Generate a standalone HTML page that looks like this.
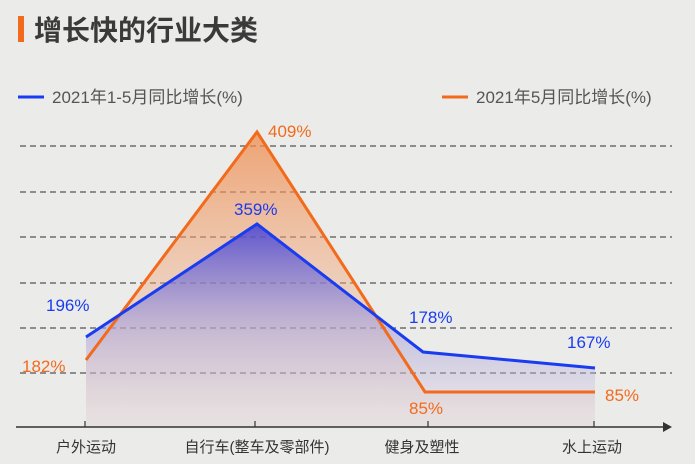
<!DOCTYPE html>
<html><head><meta charset="utf-8"><style>
body{margin:0;width:695px;height:464px;overflow:hidden;background:#ebebea;font-family:"Liberation Sans","Noto Sans CJK SC",sans-serif;}
</style></head><body>
<svg width="695" height="464" xmlns="http://www.w3.org/2000/svg" style="position:absolute;left:0;top:0">
<defs>
<linearGradient id="og" x1="0" y1="0" x2="0" y2="1"><stop offset="0" stop-color="#f08a4a" stop-opacity="0.75"/><stop offset="1" stop-color="#f0c8b0" stop-opacity="0.15"/></linearGradient>
<linearGradient id="bg" x1="0" y1="0" x2="0" y2="1"><stop offset="0" stop-color="#3a3ad8" stop-opacity="0.8"/><stop offset="0.5" stop-color="#a8a0d8" stop-opacity="0.6"/><stop offset="1" stop-color="#d8d0e0" stop-opacity="0.2"/></linearGradient>
</defs>
<rect x="18" y="16" width="6" height="26" fill="#f26b1d"/>
<text x="34" y="40" font-size="28" font-weight="bold" fill="#3a3a3a" font-family="Liberation Sans,Noto Sans CJK SC,sans-serif">增长快的行业大类</text>
<line x1="18" y1="97" x2="44" y2="97" stroke="#1a3cf0" stroke-width="3"/>
<text x="52" y="103" font-size="17" fill="#555">2021年1-5月同比增长(%)</text>
<line x1="442" y1="97" x2="468" y2="97" stroke="#f26b1d" stroke-width="3"/>
<text x="476" y="103" font-size="17" fill="#555">2021年5月同比增长(%)</text>
<g stroke="#555" stroke-width="1.2" stroke-dasharray="6,4">
<line x1="20" y1="146" x2="672" y2="146"/><line x1="20" y1="192" x2="672" y2="192"/><line x1="20" y1="237" x2="672" y2="237"/><line x1="20" y1="283" x2="672" y2="283"/><line x1="20" y1="328" x2="672" y2="328"/><line x1="20" y1="373" x2="672" y2="373"/>
</g>
<polygon points="86,360 257,132 425,392 595,392 595,427 86,427" fill="url(#og)"/>
<polygon points="86,337 257,224 423,352 595,368 595,427 86,427" fill="url(#bg)"/>
<polyline points="86,360 257,132 425,392 595,392" fill="none" stroke="#f26b1d" stroke-width="3"/>
<polyline points="86,337 257,224 423,352 595,368" fill="none" stroke="#1a3cf0" stroke-width="3"/>
<line x1="16" y1="427" x2="664" y2="427" stroke="#333" stroke-width="1.5"/>
<polygon points="672,427 663,422 663,432" fill="#333"/>
<g stroke="#333" stroke-width="1.2"><line x1="85" y1="421" x2="85" y2="427"/><line x1="255" y1="421" x2="255" y2="427"/><line x1="428" y1="421" x2="428" y2="427"/><line x1="594" y1="421" x2="594" y2="427"/></g>
<g font-size="17" fill="#f26b1d"><text x="268" y="137">409%</text><text x="22" y="372">182%</text><text x="409" y="414">85%</text><text x="605" y="401">85%</text></g>
<g font-size="17" fill="#1a3cf0"><text x="234" y="215">359%</text><text x="46" y="311">196%</text><text x="409" y="323">178%</text><text x="567" y="348">167%</text></g>
<g font-size="15" fill="#333" text-anchor="middle"><text x="86" y="452">户外运动</text><text x="257" y="452">自行车(整车及零部件)</text><text x="422" y="452">健身及塑性</text><text x="592" y="452">水上运动</text></g>
</svg>
</body></html>
